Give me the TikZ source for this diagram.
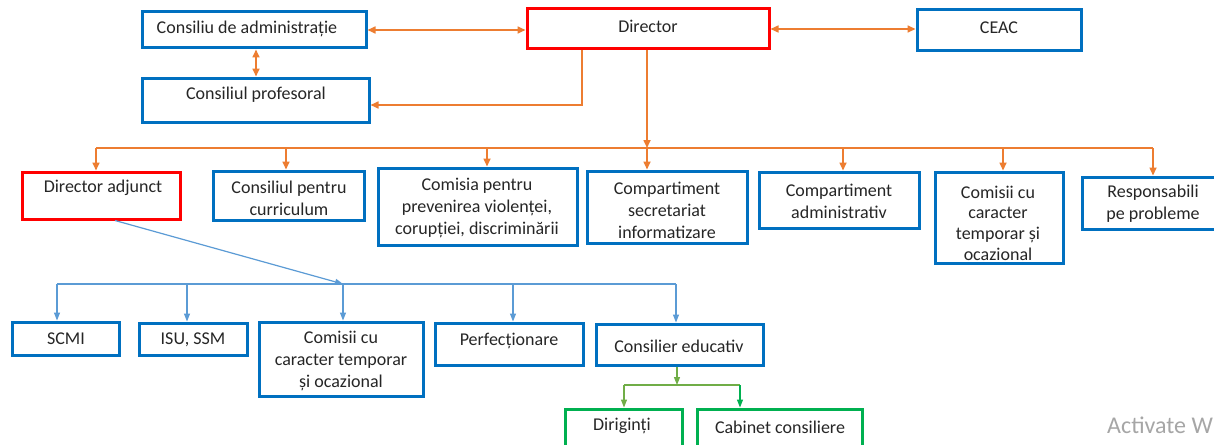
\documentclass[tikz,border=0pt]{standalone}
\usepackage{fontspec}
\setmainfont{Carlito}
\usetikzlibrary{arrows.meta,fit}
\definecolor{obl}{RGB}{0,112,192}
\definecolor{ored}{RGB}{255,0,0}
\definecolor{oor}{RGB}{237,125,49}
\definecolor{lbl}{RGB}{91,155,213}
\definecolor{gbx}{RGB}{0,176,80}
\definecolor{gln}{RGB}{112,173,71}
\begin{document}
\begin{tikzpicture}[x=1pt,y=-1pt,
  bbox/.style={draw=obl, line width=3pt, inner sep=0pt},
  rbox/.style={bbox, draw=ored},
  gbox/.style={bbox, draw=gbx},
  txt/.style={font=\fontsize{18}{22}\selectfont, align=center, inner sep=0pt, text=black!85},
  oline/.style={draw=oor, line width=1.6pt},
  oarr/.style={oline, -{Triangle[length=8pt,width=7pt]}},
  odarr/.style={oline, {Triangle[length=8pt,width=7pt]}-{Triangle[length=8pt,width=7pt]}},
  bline/.style={draw=lbl, line width=1.2pt},
  barr/.style={bline, -{Triangle[length=8pt,width=6pt]}},
  gline/.style={draw=gln, line width=1.2pt},
  garr/.style={gline, -{Triangle[length=8pt,width=6pt]}},
  garr2/.style={draw=gbx, line width=1.2pt, -{Triangle[length=8pt,width=6pt]}}]
\useasboundingbox (0,0) rectangle (1214,444);
\fill[white] (0,0) rectangle (1214,444);
% top row
\node[bbox, fit={(142,12)(366,48)}] (ca) {};
\node[txt] (tca) at (247,29) {Consiliu de administrație};
\node[bbox, fit={(142,78)(369,122)}] (cp) {};
\node[txt] (tcp) at (256,95) {Consiliul profesoral};
\node[rbox, fit={(527,9)(769,49)}] (dir) {};
\node[txt] (tdir) at (648,26) {Director};
\node[bbox, fit={(917,10)(1081,51)}] (ceac) {};
\node[txt] (tceac) at (999,28) {CEAC};
% second row
\node[rbox, fit={(22,172)(180,219)}] (da) {};
\node[txt] (tda) at (103,188) {Director adjunct};
\node[bbox, fit={(213,171)(364,220)}] (cc) {};
\node[txt] (tcc) at (289,198) {Consiliul pentru\\curriculum};
\node[bbox, fit={(378,168)(577,245)}] (cv) {};
\node[txt] (tcv) at (477,208) {Comisia pentru\\prevenirea violenței,\\corupției, discriminării};
\node[bbox, fit={(587,171)(747,243)}] (cs) {};
\node[txt] (tcs) at (667,210) {Compartiment\\secretariat\\informatizare};
\node[bbox, fit={(759,172)(919,228)}] (cad) {};
\node[txt] (tcad) at (839,201) {Compartiment\\administrativ};
\node[bbox, fit={(935,172)(1063,263)}] (ct) {};
\node[txt, font=\fontsize{18}{20.7}\selectfont] (tct) at (998,223) {Comisii cu\\caracter\\temporar și\\ocazional};
\node[bbox, fit={(1082,177)(1220,229)}] (rp) {};
\node[txt] (trp) at (1153,204) {Responsabili\\pe probleme};
% third row
\node[bbox, fit={(12,322)(119,355)}] (scmi) {};
\node[txt] (tscmi) at (66,339) {SCMI};
\node[bbox, fit={(139,323)(247,355)}] (isu) {};
\node[txt] (tisu) at (193,340) {ISU, SSM};
\node[bbox, fit={(259,322)(423,396)}] (cto) {};
\node[txt] (tcto) at (341,361) {Comisii cu\\caracter temporar\\și ocazional};
\node[bbox, fit={(435,323)(583,365)}] (pf) {};
\node[txt] (tpf) at (509,341) {Perfecționare};
\node[bbox, fit={(596,324)(763,365)}] (ce) {};
\node[txt] (tce) at (679,346) {Consilier educativ};
% fourth row
\node[gbox, fit={(565,409)(682,460)}] (dg) {};
\node[txt] (tdg) at (622,426) {Diriginți};
\node[gbox, fit={(697,409)(862,460)}] (cb) {};
\node[txt] (tcb) at (780,427) {Cabinet consiliere};
% orange connectors
\coordinate (h1) at (256,30);
\draw[odarr] (ca.east |- 0,30) -- (dir.west |- 0,30);
\draw[odarr] (dir.east |- 0,29) -- (ceac.west |- 0,29);
\draw[odarr] (ca.south -| h1) -- (cp.north -| h1);
\coordinate (j1) at (582,105);
\draw[oarr] (dir.south -| j1) -- (j1) -- (j1 -| cp.east);
\coordinate (bm) at (647,148);
\coordinate (b1) at (96,148);
\coordinate (b2) at (286,148);
\coordinate (b3) at (487,148);
\coordinate (b5) at (843,148);
\coordinate (b6) at (1003,148);
\coordinate (b7) at (1153,148);
\draw[oarr] (dir.south -| bm) -- (bm);
\draw[oline] (b1) -- (b7);
\draw[oarr] (b1) -- (b1 |- da.north);
\draw[oarr] (b2) -- (b2 |- cc.north);
\draw[oarr] (b3) -- (b3 |- cv.north);
\draw[oarr] (bm) -- (bm |- cs.north);
\draw[oarr] (b5) -- (b5 |- cad.north);
\draw[oarr] (b6) -- (b6 |- ct.north);
\draw[oarr] (b7) -- (b7 |- rp.north);
% blue connectors
\coordinate (d0) at (115,219);
\coordinate (c1) at (57,284);
\coordinate (c2) at (187,284);
\coordinate (c3) at (343,284);
\coordinate (c4) at (513,284);
\coordinate (c5) at (676,284);
\draw[barr] (da.south -| d0) -- (c3);
\draw[bline] (c1) -- (c5);
\draw[barr] (c1) -- (c1 |- scmi.north);
\draw[barr] (c2) -- (c2 |- isu.north);
\draw[barr] (c3) -- (c3 |- cto.north);
\draw[barr] (c4) -- (c4 |- pf.north);
\draw[barr] (c5) -- (c5 |- ce.north);
% green connectors
\coordinate (g0) at (677,385);
\coordinate (g1) at (624,385);
\coordinate (g2) at (740,385);
\draw[garr] (ce.south -| g0) -- (g0);
\draw[gline] (g1) -- (g2);
\draw[garr] (g1) -- (g1 |- dg.north);
\draw[garr2] (g2) -- (g2 |- cb.north);
% watermark
\node[anchor=west, inner sep=0pt, text=black!35, font=\fontsize{24}{28}\selectfont] (wm) at (1107,425) {Activate W};
\end{tikzpicture}
\end{document}
